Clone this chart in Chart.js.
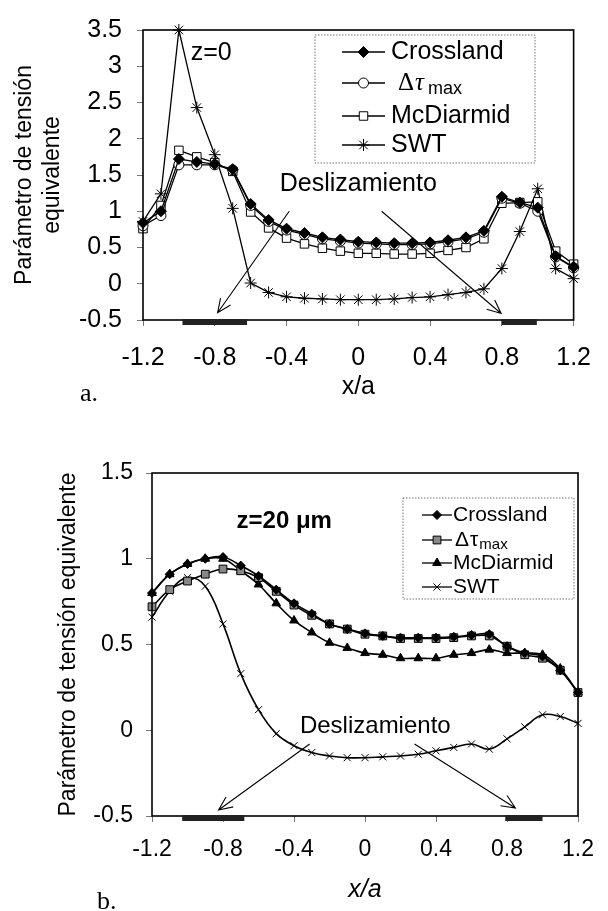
<!DOCTYPE html>
<html>
<head>
<meta charset="utf-8">
<script src="https://cdn.jsdelivr.net/npm/chart.js@4.4.1/dist/chart.umd.min.js"></script>
<style>
  body { margin: 0; background: #fff; }
  #wrap { position: relative; width: 608px; height: 911px; }
  #chartA { position: absolute; left: 0; top: 0; }
  #chartB { position: absolute; left: 0; top: 420px; }
</style>
</head>
<body>
<div id="wrap">
  <canvas id="chartA" width="608" height="420"></canvas>
  <canvas id="chartB" width="608" height="491"></canvas>
</div>
<script>
// posiciones x/a (paso 0.1)
const xPos = [-1.2, -1.1, -1.0, -0.9, -0.8, -0.7, -0.6, -0.5, -0.4, -0.3, -0.2, -0.1, 0,
              0.1, 0.2, 0.3, 0.4, 0.5, 0.6, 0.7, 0.8, 0.9, 1.0, 1.1, 1.2];

// a. z=0
const crosslandA = [0.84, 1.00, 1.72, 1.68, 1.65, 1.58, 1.10, 0.88, 0.76, 0.70, 0.64, 0.61, 0.58,
                    0.57, 0.56, 0.56, 0.57, 0.60, 0.64, 0.73, 1.20, 1.12, 1.05, 0.38, 0.23];
const tauMaxA    = [0.80, 0.94, 1.64, 1.64, 1.64, 1.57, 1.08, 0.86, 0.74, 0.68, 0.62, 0.59, 0.56,
                    0.55, 0.54, 0.54, 0.55, 0.58, 0.62, 0.71, 1.18, 1.11, 1.00, 0.37, 0.22];
const mcDiarmidA = [0.76, 1.08, 1.84, 1.75, 1.67, 1.55, 0.99, 0.77, 0.63, 0.55, 0.49, 0.45, 0.42,
                    0.42, 0.41, 0.41, 0.42, 0.46, 0.50, 0.62, 1.11, 1.12, 1.13, 0.45, 0.27];
const swtA       = [0.86, 1.24, 3.50, 2.43, 1.78, 1.04, 0.01, -0.12, -0.18, -0.20, -0.21, -0.22, -0.22,
                    -0.22, -0.21, -0.19, -0.18, -0.15, -0.12, -0.07, 0.21, 0.72, 1.31, 0.21, 0.07];

// b. z=20 um
const crosslandB = [0.80, 0.91, 0.97, 1.00, 1.01, 0.96, 0.90, 0.82, 0.74, 0.68, 0.62, 0.59, 0.565,
                    0.55, 0.54, 0.54, 0.54, 0.545, 0.555, 0.56, 0.49, 0.45, 0.43, 0.35, 0.22];
const tauMaxB    = [0.72, 0.82, 0.87, 0.91, 0.94, 0.93, 0.89, 0.81, 0.73, 0.67, 0.62, 0.59, 0.56,
                    0.55, 0.535, 0.535, 0.535, 0.54, 0.55, 0.55, 0.49, 0.44, 0.42, 0.35, 0.22];
const mcDiarmidB = [0.80, 0.91, 0.97, 1.00, 1.00, 0.93, 0.85, 0.74, 0.64, 0.57, 0.51, 0.48, 0.45,
                    0.44, 0.42, 0.42, 0.42, 0.44, 0.45, 0.47, 0.45, 0.45, 0.44, 0.36, 0.22];
const swtB       = [0.66, 0.81, 0.89, 0.84, 0.62, 0.33, 0.12, -0.02, -0.09, -0.13, -0.15, -0.16, -0.16,
                    -0.155, -0.15, -0.14, -0.12, -0.10, -0.08, -0.11, -0.05, 0.02, 0.09, 0.08, 0.04];

// ejes
const xTicks = [-1.2, -0.8, -0.4, 0, 0.4, 0.8, 1.2];
const xTickLabels = ['-1.2', '-0.8', '-0.4', '0', '0.4', '0.8', '1.2'];
const yTicksA = [-0.5, 0, 0.5, 1, 1.5, 2, 2.5, 3, 3.5];
const yTickLabelsA = ['-0.5', '0', '0.5', '1', '1.5', '2', '2.5', '3', '3.5'];
const yTicksB = [-0.5, 0, 0.5, 1, 1.5];
const yTickLabelsB = ['-0.5', '0', '0.5', '1', '1.5'];

// zonas de deslizamiento (x/a)
const slipA = [[-0.98, -0.62], [0.80, 0.995]];
const slipB = [[-1.03, -0.68], [0.79, 1.00]];

const seriesNames = ['Crossland', 'Δτmax', 'McDiarmid', 'SWT'];

const SANS = '"Liberation Sans", Arial, sans-serif';
const SERIF = '"Liberation Serif", "Times New Roman", serif';
Chart.defaults.font.family = SANS;
Chart.defaults.color = '#000';

function toPoints(ys) {
    return xPos.map((x, i) => ({ x: x, y: ys[i] }));
}

function marker(ctx, style, r, x, y, fill) {
    ctx.save();
    ctx.fillStyle = fill;
    ctx.strokeStyle = '#000';
    ctx.lineWidth = 1;
    if (Chart.helpers && Chart.helpers.drawPoint) {
        Chart.helpers.drawPoint(ctx, { pointStyle: style, radius: r, rotation: 0, borderWidth: 1 }, x, y);
    } else {
        ctx.beginPath();
        ctx.arc(x, y, r, 0, Math.PI * 2);
        ctx.fill();
        ctx.stroke();
    }
    ctx.restore();
}

// marco, leyenda, flechas y textos
const extrasPlugin = {
    id: 'extras',
    afterDatasetsDraw(chart, args, opts) {
        const ctx = chart.ctx;
        const area = chart.chartArea;
        const sx = chart.scales.x, sy = chart.scales.y;
        ctx.save();

        // marco del area
        ctx.strokeStyle = '#000';
        ctx.lineWidth = 1.6;
        ctx.strokeRect(area.left, area.top, area.right - area.left, area.bottom - area.top);

        // barras de deslizamiento sobre el eje
        ctx.fillStyle = '#222';
        opts.slip.forEach(z => {
            const a = sx.getPixelForValue(z[0]), b = sx.getPixelForValue(z[1]);
            ctx.fillRect(a, area.bottom - 1, b - a, 6);
        });

        // flechas
        ctx.lineWidth = 1.1;
        ctx.strokeStyle = '#000';
        opts.arrows.forEach(ar => {
            const x1 = sx.getPixelForValue(ar[0]), y1 = sy.getPixelForValue(ar[1]);
            const x2 = sx.getPixelForValue(ar[2]), y2 = sy.getPixelForValue(ar[3]);
            const ang = Math.atan2(y2 - y1, x2 - x1);
            const L = 15, w = 0.42;
            ctx.beginPath();
            ctx.moveTo(x1, y1);
            ctx.lineTo(x2, y2);
            ctx.moveTo(x2 - L * Math.cos(ang - w), y2 - L * Math.sin(ang - w));
            ctx.lineTo(x2, y2);
            ctx.lineTo(x2 - L * Math.cos(ang + w), y2 - L * Math.sin(ang + w));
            ctx.stroke();
        });

        // textos dentro del grafico
        ctx.fillStyle = '#000';
        ctx.textAlign = 'center';
        ctx.textBaseline = 'middle';
        opts.texts.forEach(t => {
            ctx.font = t.font;
            if (t.data) {
                ctx.fillText(t.text, sx.getPixelForValue(t.x), sy.getPixelForValue(t.y));
            } else {
                ctx.textAlign = 'left';
                ctx.textBaseline = 'alphabetic';
                ctx.fillText(t.text, t.x, t.y);
                ctx.textAlign = 'center';
                ctx.textBaseline = 'middle';
            }
        });

        // leyenda
        const lg = opts.legend;
        ctx.fillStyle = '#fff';
        ctx.fillRect(lg.box[0], lg.box[1], lg.box[2] - lg.box[0], lg.box[3] - lg.box[1]);
        ctx.setLineDash([1.5, 1.5]);
        ctx.strokeStyle = '#777';
        ctx.lineWidth = 1;
        ctx.strokeRect(lg.box[0], lg.box[1], lg.box[2] - lg.box[0], lg.box[3] - lg.box[1]);
        ctx.setLineDash([]);
        chart.data.datasets.forEach((ds, i) => {
            const y = lg.rows[i];
            ctx.strokeStyle = '#000';
            ctx.lineWidth = 1.3;
            ctx.beginPath();
            ctx.moveTo(lg.line[0], y);
            ctx.lineTo(lg.line[1], y);
            ctx.stroke();
            marker(ctx, ds.pointStyle, ds.pointRadius, (lg.line[0] + lg.line[1]) / 2, y, ds.pointBackgroundColor);
            ctx.fillStyle = '#000';
            ctx.textAlign = 'left';
            ctx.textBaseline = 'middle';
            if (ds.label.indexOf('Δτ') === 0) {
                let x = lg.textX + lg.tauIndent;
                ctx.font = lg.deltaFont;
                ctx.fillText('Δ', x, y);
                x += ctx.measureText('Δ').width + 1;
                ctx.font = lg.tauFont;
                ctx.fillText('τ', x, y);
                x += ctx.measureText('τ').width + lg.subGap;
                ctx.font = lg.subFont;
                ctx.fillText(ds.label.slice(2), x, y + lg.subDrop);
            } else {
                ctx.font = lg.font;
                ctx.fillText(ds.label, lg.textX, y);
            }
        });
        ctx.restore();
    }
};

function makeChart(id, cfg) {
    const styles = cfg.styles;
    const datasets = cfg.series.map((ys, i) => ({
        label: seriesNames[i],
        data: toPoints(ys),
        borderColor: '#000',
        borderWidth: cfg.lineWidth,
        pointStyle: styles[i].style,
        pointRadius: styles[i].r,
        pointBackgroundColor: styles[i].fill,
        pointBorderColor: '#000',
        pointBorderWidth: 1,
        tension: cfg.tension,
        clip: false,
        fill: false
    }));
    return new Chart(document.getElementById(id), {
        type: 'line',
        data: { datasets: datasets },
        plugins: [extrasPlugin],
        options: {
            responsive: false,
            animation: false,
            layout: { padding: cfg.padding },
            plugins: {
                legend: { display: false },
                tooltip: { enabled: false },
                extras: cfg.extras
            },
            scales: {
                x: {
                    type: 'linear',
                    min: -1.2,
                    max: 1.2,
                    afterBuildTicks: s => { s.ticks = xTicks.map(v => ({ value: v })); },
                    afterFit: s => { s.height = cfg.xHeight; },
                    ticks: {
                        callback: (v, i) => xTickLabels[i],
                        font: { size: cfg.tickSize },
                        color: '#000',
                        padding: cfg.xPad,
                        maxRotation: 0,
                        autoSkip: false
                    },
                    grid: { drawOnChartArea: false, tickLength: 6, color: '#777' },
                    border: { display: false },
                    title: {
                        display: true,
                        text: 'x/a',
                        font: { size: 25, style: cfg.xTitleStyle },
                        color: '#000',
                        padding: { top: 0, bottom: cfg.xTitlePad }
                    }
                },
                y: {
                    type: 'linear',
                    min: cfg.yTicks[0],
                    max: cfg.yTicks[cfg.yTicks.length - 1],
                    afterBuildTicks: s => { s.ticks = cfg.yTicks.map(v => ({ value: v })); },
                    afterFit: s => { s.width = cfg.yWidth; },
                    ticks: {
                        callback: (v, i) => cfg.yLabels[i],
                        font: { size: cfg.tickSize },
                        color: '#000',
                        padding: cfg.yPad
                    },
                    grid: { drawOnChartArea: false, tickLength: 6, color: '#777' },
                    border: { display: false },
                    title: {
                        display: true,
                        text: cfg.yTitle,
                        font: { size: 23, lineHeight: 1.25 },
                        color: '#000',
                        padding: { top: cfg.yTitlePad, bottom: 0 }
                    }
                }
            }
        }
    });
}

// a. z=0
makeChart('chartA', {
    series: [crosslandA, tauMaxA, mcDiarmidA, swtA],
    styles: [
        { style: 'rectRot', r: 5.5, fill: '#000' },
        { style: 'circle', r: 5, fill: '#fff' },
        { style: 'rect', r: 6, fill: '#fff' },
        { style: 'star', r: 6, fill: '#000' }
    ],
    lineWidth: 1.3,
    tension: 0,
    padding: { top: 27, right: 32, bottom: 0, left: 0 },
    xHeight: 100,
    yWidth: 143,
    tickSize: 25,
    xPad: 17,
    yPad: 15,
    xTitleStyle: 'normal',
    xTitlePad: 18,
    yTicks: yTicksA,
    yLabels: yTickLabelsA,
    yTitle: ['Parámetro de tensión', 'equivalente'],
    yTitlePad: 10,
    extras: {
        slip: slipA,
        arrows: [[-0.385, 1.0, -0.784, -0.40], [0.13, 1.0, 0.796, -0.41]],
        texts: [
            { text: 'z=0', x: -0.82, y: 3.18, data: true, font: '25px ' + SANS },
            { text: 'Deslizamiento', x: 0, y: 1.38, data: true, font: '25px ' + SANS },
            { text: 'a.', x: 80, y: 401, data: false, font: '26px ' + SERIF }
        ],
        legend: {
            box: [315, 35, 535, 163],
            rows: [52, 83, 116, 145],
            line: [342, 385],
            textX: 391,
            font: '25px ' + SANS,
            tauIndent: 7,
            deltaFont: '25px ' + SERIF,
            tauFont: 'italic 25px ' + SERIF,
            subFont: '18px ' + SANS,
            subGap: 4,
            subDrop: 6
        }
    }
});

// b. z=20 um
makeChart('chartB', {
    series: [crosslandB, tauMaxB, mcDiarmidB, swtB],
    styles: [
        { style: 'rectRot', r: 4.5, fill: '#000' },
        { style: 'rect', r: 5.5, fill: '#888' },
        { style: 'triangle', r: 5, fill: '#000' },
        { style: 'crossRot', r: 5, fill: '#000' }
    ],
    lineWidth: 1.6,
    tension: 0.4,
    padding: { top: 53, right: 21, bottom: 0, left: 0 },
    xHeight: 95,
    yWidth: 152,
    tickSize: 23,
    xPad: 14,
    yPad: 13,
    xTitleStyle: 'italic',
    xTitlePad: 6,
    yTicks: yTicksB,
    yLabels: yTickLabelsB,
    yTitle: 'Parámetro de tensión equivalente',
    yTitlePad: 54,
    extras: {
        slip: slipB,
        arrows: [[-0.312, -0.08, -0.825, -0.465], [0.279, -0.08, 0.847, -0.453]],
        texts: [
            { text: 'z=20 μm', x: -0.455, y: 1.22, data: true, font: 'bold 24px ' + SANS },
            { text: 'Deslizamiento', x: 0.058, y: 0.02, data: true, font: '24px ' + SANS },
            { text: 'b.', x: 97, y: 489, data: false, font: '26px ' + SERIF }
        ],
        legend: {
            box: [403, 78, 574, 179],
            rows: [95, 120, 143, 167],
            line: [422, 452],
            textX: 453,
            font: '21px ' + SANS,
            tauIndent: 2,
            deltaFont: '21px ' + SANS,
            tauFont: '21px ' + SANS,
            subFont: '15px ' + SANS,
            subGap: 1,
            subDrop: 5
        }
    }
});
</script>
</body>
</html>
